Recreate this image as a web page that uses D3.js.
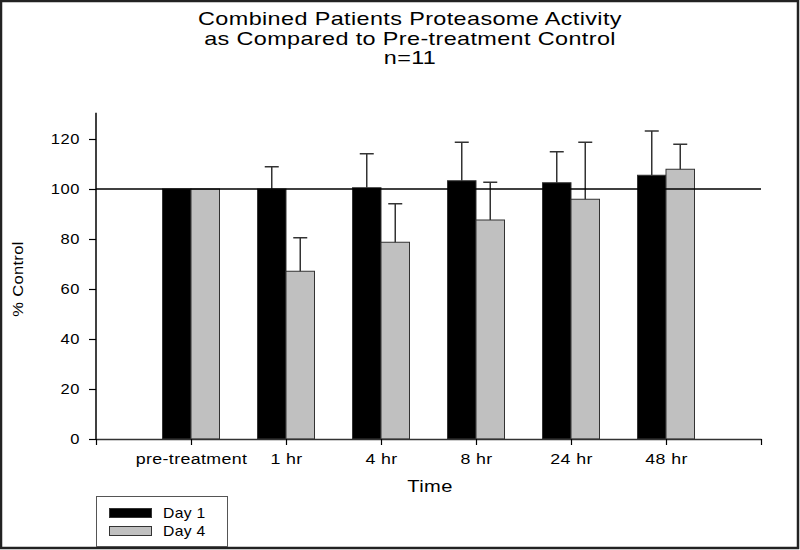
<!DOCTYPE html>
<html>
<head>
<meta charset="utf-8">
<script src="https://cdn.jsdelivr.net/npm/d3@7/dist/d3.min.js"></script>
<style>
  body { margin: 0; background: #fff; }
  svg { display: block; }
  text { font-family: "Liberation Sans", Arial, sans-serif; fill: #000; }
</style>
</head>
<body>
<svg id="chart" width="800" height="550"></svg>
<script>
const categories = ["pre-treatment", "1 hr", "4 hr", "8 hr", "24 hr", "48 hr"];
const seriesNames = ["Day 1", "Day 4"];
const day1Values = [100, 100, 100.5, 103.3, 102.5, 105.5];
const day1ErrTop = [100, 108.9, 114.1, 118.7, 114.9, 123.2];
const day4Values = [100, 67.1, 78.7, 87.6, 95.9, 107.9];
const day4ErrTop = [100, 80.5, 94.1, 102.7, 118.7, 117.9];
const yTicks = [0, 20, 40, 60, 80, 100, 120];
const referenceValue = 100;
const titleLines = ["Combined Patients Proteasome Activity", "as Compared to Pre-treatment Control", "n=11"];

const svg = d3.select("#chart");
const colors = ["#000000", "#c0c0c0"];

// horizontally stretch text (the reference uses a wide sans face)
function stretch(sel, sx) {
  sel.each(function () {
    const t = d3.select(this);
    const tx = +t.attr("x") || 0, ty = +t.attr("y") || 0;
    const prev = t.attr("transform") || "";
    t.attr("x", 0).attr("y", 0)
      .attr("transform", `${prev} translate(${tx},${ty}) scale(${sx},1)`);
  });
}

// frame
svg.append("rect").attr("x", 1).attr("y", 1).attr("width", 797).attr("height", 547)
  .attr("fill", "none").attr("stroke", "#222").attr("stroke-width", 2.5);

const x = d3.scaleLinear().domain([0, categories.length + 1]).range([96, 761]);
const y = d3.scaleLinear().domain([0, 120]).range([439, 139]);
const barW = x(0.3) - x(0);

// title
svg.append("g").selectAll("text").data(titleLines).join("text")
  .attr("x", 410).attr("y", (d, i) => 25 + i * 19.5)
  .attr("text-anchor", "middle").attr("font-size", 18).attr("letter-spacing", 0.3)
  .text(d => d)
  .call(stretch, 1.3);

// y axis
const yAxis = svg.append("g").attr("transform", `translate(${x(0)},0)`)
  .call(d3.axisLeft(y).tickValues(yTicks).tickSize(7).tickPadding(9).tickSizeOuter(0));
yAxis.select(".domain").remove();
yAxis.append("line").attr("x1", 0).attr("x2", 0).attr("y1", y(0)).attr("y2", y(130.5))
  .attr("stroke", "#000").attr("stroke-width", 1.5);
yAxis.selectAll(".tick line").attr("stroke", "#000").attr("stroke-width", 1.2);
yAxis.selectAll(".tick text").attr("font-size", 14).attr("letter-spacing", 0.5)
  .attr("font-family", "Liberation Sans, Arial, sans-serif").attr("fill", "#000")
  .call(stretch, 1.18);

// bars
const data = [];
categories.forEach((c, i) => {
  data.push({ pos: i + 1, s: 0, v: day1Values[i], e: day1ErrTop[i] });
  data.push({ pos: i + 1, s: 1, v: day4Values[i], e: day4ErrTop[i] });
});

svg.append("g").selectAll("rect").data(data).join("rect")
  .attr("x", d => d.s === 0 ? x(d.pos) - barW : x(d.pos))
  .attr("y", d => y(d.v))
  .attr("width", barW)
  .attr("height", d => y(0) - y(d.v))
  .attr("fill", d => colors[d.s])
  .attr("stroke", "#333").attr("stroke-width", 1);

// error bars (upper only)
const errs = svg.append("g").attr("stroke", "#333").attr("stroke-width", 1.5);
data.filter(d => d.e > d.v).forEach(d => {
  const cx = d.s === 0 ? x(d.pos) - barW / 2 : x(d.pos) + barW / 2;
  errs.append("line").attr("x1", cx).attr("x2", cx).attr("y1", y(d.v)).attr("y2", y(d.e));
  errs.append("line").attr("x1", cx - 7).attr("x2", cx + 7).attr("y1", y(d.e)).attr("y2", y(d.e));
});

// reference line
svg.append("line").attr("x1", x(0)).attr("x2", x(categories.length + 1))
  .attr("y1", y(referenceValue)).attr("y2", y(referenceValue))
  .attr("stroke", "#000").attr("stroke-width", 1.5);

// x axis
const xAxis = svg.append("g").attr("transform", `translate(0,${y(0)})`)
  .call(d3.axisBottom(x).tickValues(d3.range(0, categories.length + 2))
    .tickFormat(d => (d >= 1 && d <= categories.length) ? categories[d - 1] : "")
    .tickSize(6).tickPadding(9).tickSizeOuter(0));
xAxis.select(".domain").attr("stroke", "#333").attr("stroke-width", 1.5);
xAxis.selectAll(".tick line").attr("stroke", "#000").attr("stroke-width", 1.2);
xAxis.selectAll(".tick text").attr("font-size", 14).attr("letter-spacing", 0.3)
  .attr("font-family", "Liberation Sans, Arial, sans-serif").attr("fill", "#000")
  .call(stretch, 1.27);

// axis titles
svg.append("text").attr("x", 430).attr("y", 492).attr("text-anchor", "middle")
  .attr("font-size", 16.5).attr("letter-spacing", 0.3).text("Time").call(stretch, 1.22);
svg.append("text").attr("transform", "translate(23,279) rotate(-90)")
  .attr("text-anchor", "middle").attr("font-size", 15).attr("letter-spacing", 0.3)
  .text("% Control").call(stretch, 1.1);

// legend
const lg = svg.append("g");
lg.append("rect").attr("x", 96.5).attr("y", 496.5).attr("width", 131).attr("height", 50)
  .attr("fill", "#fff").attr("stroke", "#555").attr("stroke-width", 1);
seriesNames.forEach((n, i) => {
  lg.append("rect").attr("x", 109.5).attr("y", 508.5 + i * 18).attr("width", 42).attr("height", 9)
    .attr("fill", colors[i]).attr("stroke", "#333").attr("stroke-width", 1);
  lg.append("text").attr("x", 163).attr("y", 518 + i * 18).attr("font-size", 14)
    .attr("letter-spacing", 0.3).text(n).call(stretch, 1.12);
});
</script>
</body>
</html>
